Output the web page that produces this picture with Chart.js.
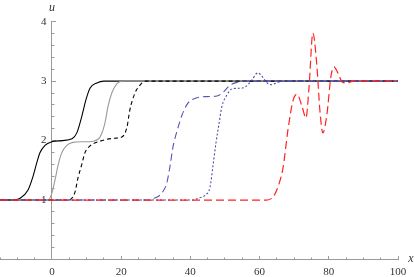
<!DOCTYPE html>
<html>
<head>
<meta charset="utf-8">
<script src="https://cdn.jsdelivr.net/npm/chart.js@4.4.1/dist/chart.umd.min.js"></script>
<style>
  html, body { margin: 0; padding: 0; background: #fff; }
  #wrap { width: 415px; height: 277px; position: relative; }
</style>
</head>
<body>
<div id="wrap"><canvas id="chart"></canvas></div>
<script>
// Achsen
const xRange = [-15, 100];
const uRange = [0, 4];
const xTickLabels = [0, 20, 40, 60, 80, 100];
const uTickLabels = [1, 2, 3, 4];

// Kurven (x-Werte / u-Werte)
const blackX = [-15, -11, -9.2, -6.9, -5.5, -4.4, -3.5, -2, 0, 3, 5.8, 7.2, 8.6, 9.8, 11, 13, 15, 100];
const blackU = [1, 1, 1.03, 1.17, 1.39, 1.62, 1.79, 1.92, 1.98, 2.0, 2.03, 2.13, 2.4, 2.68, 2.88, 2.97, 3, 3];

const grayX = [-15, -1, 0, 0.9, 1.8, 2.8, 4.3, 6.1, 9, 12, 13.9, 15.3, 16.2, 17.3, 18.8, 20.5, 100];
const grayU = [1, 1, 1.12, 1.34, 1.59, 1.79, 1.92, 1.97, 1.98, 1.99, 2.06, 2.29, 2.57, 2.8, 2.96, 3, 3];

const blackDashX = [-15, 4.5, 6.6, 7.6, 8.6, 9.5, 11, 13.9, 18.2, 20.2, 21.7, 22.5, 24, 25.4, 27, 100];
const blackDashU = [1, 1, 1.12, 1.39, 1.59, 1.79, 1.91, 1.99, 2.04, 2.06, 2.23, 2.51, 2.8, 2.93, 3, 3];

const blueDashX = [-15, 28, 29.2, 31.8, 33.2, 34.1, 35, 36.1, 37.6, 39.3, 41.9, 44.8, 47.7, 49.4, 51.4, 53.5, 55.5, 100];
const blueDashU = [1, 1, 1.02, 1.12, 1.29, 1.56, 1.9, 2.15, 2.43, 2.63, 2.72, 2.74, 2.75, 2.81, 2.93, 2.98, 3, 3];

const blueDotX = [-15, 41, 42.2, 44.2, 45.7, 46.5, 47.4, 48.3, 49.1, 50.6, 52, 53.8, 55.8, 57.8, 59.5, 61, 62, 63.3, 65.3, 67, 100];
const blueDotU = [1, 1, 1.03, 1.08, 1.22, 1.56, 1.96, 2.29, 2.57, 2.77, 2.87, 2.88, 2.9, 3.02, 3.14, 3.06, 2.98, 2.94, 2.98, 3, 3];

const redX = [-15, 62, 64, 65.5, 66.8, 68.2, 69.7, 70.8, 72.3, 73.4, 74.3, 75.4, 76.5, 77.5, 78.3, 79.5, 80.6, 81.5, 82.7, 84, 85.5, 87, 100];
const redU = [1, 1, 1.06, 1.25, 1.55, 2.18, 2.68, 2.78, 2.57, 2.38, 2.9, 3.81, 3.3, 2.46, 2.13, 2.46, 3.07, 3.24, 3.13, 2.98, 2.97, 3, 3];

const axisColor = "#9a9a9a";
const labelFont = { family: "'Liberation Serif', 'DejaVu Serif', serif", size: 11 };

function pts(xs, us) {
    return xs.map((x, i) => ({ x: x, y: us[i] }));
}

function series(xs, us, color, dash, width, order) {
    return {
        data: pts(xs, us),
        borderColor: color,
        borderWidth: width,
        borderDash: dash,
        pointRadius: 0,
        cubicInterpolationMode: "monotone",
        fill: false,
        order: order
    };
}

// Achsenbeschriftung "u" und "x"
const axisTitles = {
    id: "axisTitles",
    afterDraw(chart) {
        const ctx = chart.ctx;
        const sx = chart.scales.x, sy = chart.scales.y;
        ctx.save();
        ctx.fillStyle = "#333";
        ctx.font = "italic 12px 'Liberation Serif', serif";
        ctx.textAlign = "center";
        ctx.textBaseline = "middle";
        ctx.fillText("u", sx.getPixelForValue(0), sy.getPixelForValue(4) - 14);
        ctx.fillText("x", sx.getPixelForValue(100) + 13, sy.getPixelForValue(0) - 1);
        ctx.restore();
    }
};

function zeroPadding(s) {
    s.paddingLeft = 0; s.paddingRight = 0; s.paddingTop = 0; s.paddingBottom = 0;
}

new Chart(document.getElementById("chart"), {
    type: "line",
    data: {
        datasets: [
            series(blackX, blackU, "#000000", [], 1.1, 5),
            series(grayX, grayU, "#9a9a9a", [], 1.1, 4),
            series(blackDashX, blackDashU, "#000000", [4, 3], 1.1, 3),
            series(blueDashX, blueDashU, "#5555b5", [7, 4], 1.1, 2),
            series(blueDotX, blueDotU, "#4a4aa8", [2, 2], 1.1, 1),
            series(redX, redU, "#ff2222", [8, 4], 1.2, 0)
        ]
    },
    options: {
        responsive: true,
        maintainAspectRatio: false,
        animation: false,
        layout: { padding: { left: 0, right: 17, top: 21.7, bottom: 17.5 } },
        plugins: { legend: { display: false }, tooltip: { enabled: false } },
        scales: {
            x: {
                type: "linear", min: xRange[0], max: xRange[1],
                position: { y: 0 },
                border: { color: axisColor, width: 1 },
                grid: { drawOnChartArea: false, tickLength: -4, tickColor: axisColor },
                ticks: {
                    stepSize: 20, includeBounds: false, autoSkip: false, maxRotation: 0,
                    padding: 10, color: "#333", font: labelFont,
                    callback: v => xTickLabels.includes(v) ? String(v) : ""
                },
                afterFit: zeroPadding
            },
            xMinor: {
                type: "linear", min: xRange[0], max: xRange[1],
                position: { y: 0 },
                border: { display: false },
                grid: { drawOnChartArea: false, tickLength: -2.5, tickColor: axisColor },
                ticks: { stepSize: 5, autoSkip: false, maxRotation: 0, padding: 0, callback: () => "" },
                afterFit: zeroPadding
            },
            y: {
                type: "linear", min: uRange[0], max: uRange[1],
                position: { x: 0 },
                border: { color: axisColor, width: 1 },
                grid: { drawOnChartArea: false, tickLength: -5, tickColor: axisColor },
                ticks: {
                    stepSize: 1, autoSkip: false, padding: 0, color: "#333", font: labelFont,
                    callback: v => uTickLabels.includes(v) ? v + "\u2002" : ""
                },
                afterFit: zeroPadding
            },
            yMinor: {
                type: "linear", min: uRange[0], max: uRange[1],
                position: { x: 0 },
                border: { display: false },
                grid: { drawOnChartArea: false, tickLength: -2.5, tickColor: axisColor },
                ticks: { stepSize: 0.2, autoSkip: false, padding: 0, callback: () => "" },
                afterFit: zeroPadding
            }
        }
    },
    plugins: [axisTitles]
});
</script>
</body>
</html>
